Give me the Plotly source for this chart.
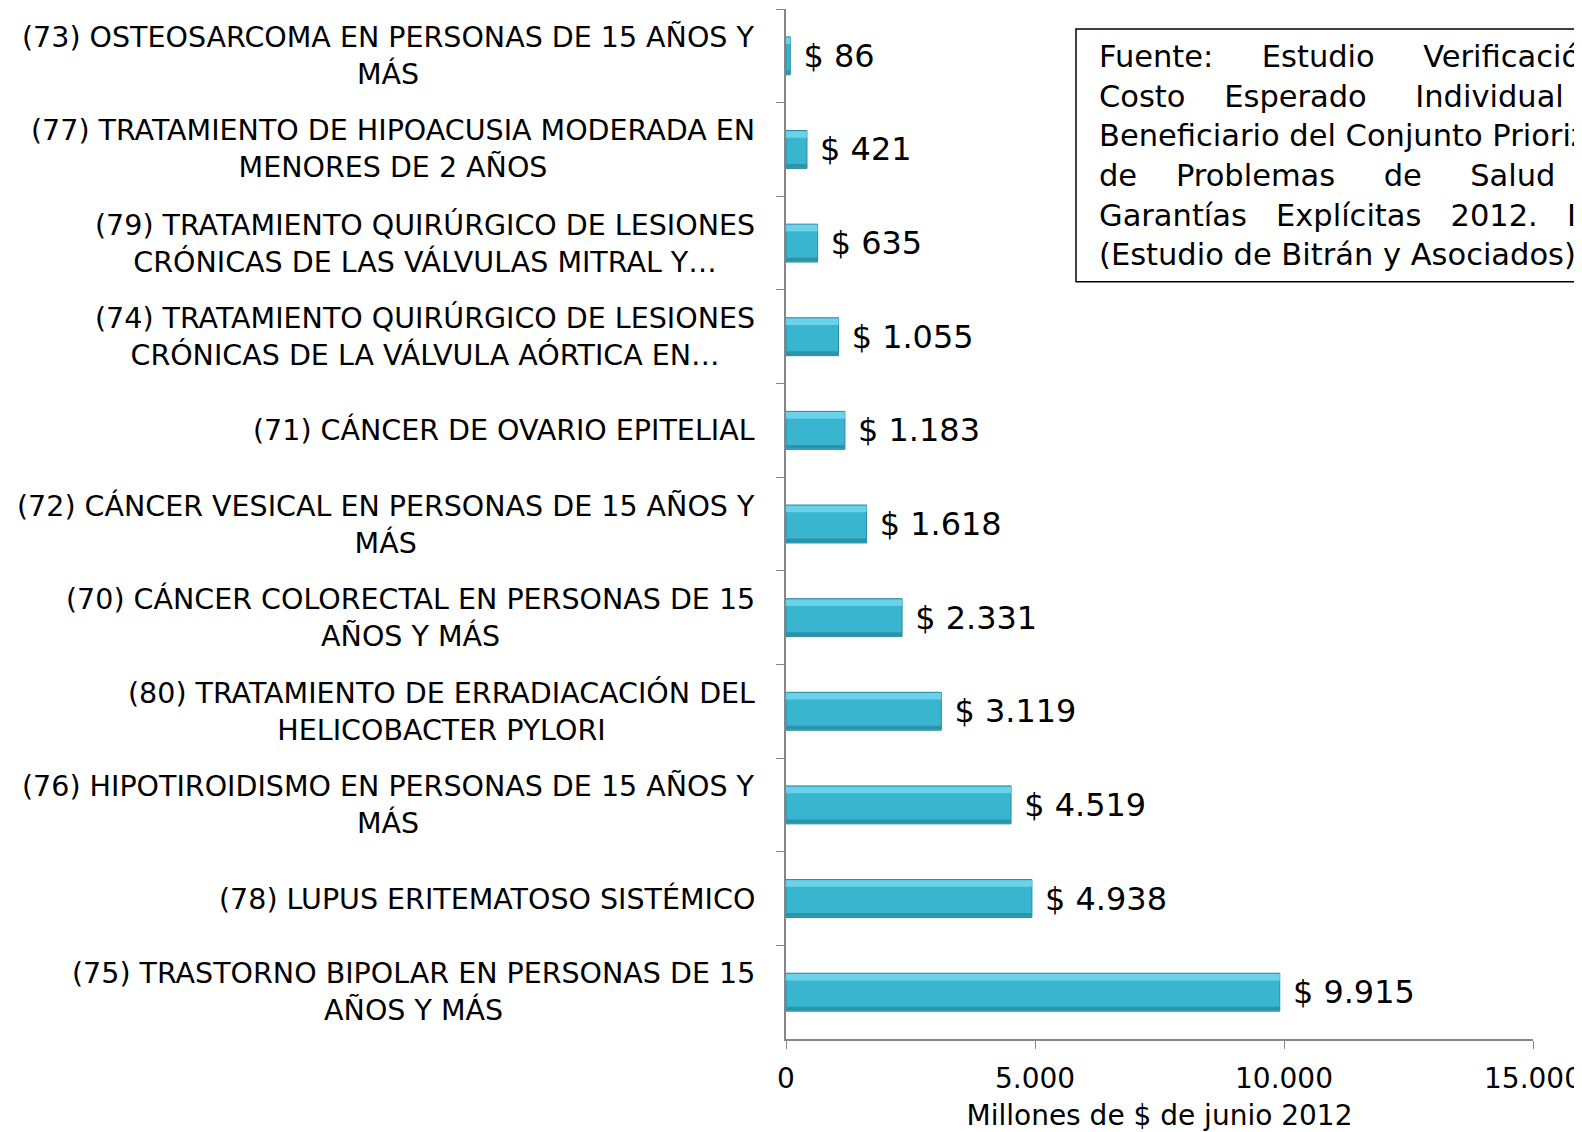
import plotly.graph_objects as go

# -------------------------------------------------
# datos (de arriba hacia abajo)
# -------------------------------------------------
categorias = [
    "(73) OSTEOSARCOMA EN PERSONAS DE 15 AÑOS Y<br>MÁS",
    "(77) TRATAMIENTO DE HIPOACUSIA MODERADA EN<br>MENORES DE 2 AÑOS",
    "(79) TRATAMIENTO QUIRÚRGICO DE LESIONES<br>CRÓNICAS DE LAS VÁLVULAS MITRAL Y…",
    "(74) TRATAMIENTO QUIRÚRGICO DE LESIONES<br>CRÓNICAS DE LA VÁLVULA AÓRTICA EN…",
    "(71) CÁNCER DE OVARIO EPITELIAL",
    "(72) CÁNCER VESICAL EN PERSONAS DE 15 AÑOS Y<br>MÁS",
    "(70) CÁNCER COLORECTAL EN PERSONAS DE 15<br>AÑOS Y MÁS",
    "(80) TRATAMIENTO DE ERRADIACACIÓN DEL<br>HELICOBACTER PYLORI",
    "(76) HIPOTIROIDISMO EN PERSONAS DE 15 AÑOS Y<br>MÁS",
    "(78) LUPUS ERITEMATOSO SISTÉMICO",
    "(75) TRASTORNO BIPOLAR EN PERSONAS DE 15<br>AÑOS Y MÁS",
]
costos = [86, 421, 635, 1055, 1183, 1618, 2331, 3119, 4519, 4938, 9915]

x_ticks = [0, 5000, 10000, 15000]
x_ticktext = ["0", "5.000", "10.000", "15.000"]

NB = "\u00a0"
fuente_lineas = [
    "Fuente:" + NB * 5 + "Estudio" + NB * 5 + "Verificación" + NB * 5 + "del",
    "Costo" + NB * 4 + "Esperado" + NB * 5 + "Individual" + NB * 5 + "por",
    "Beneficiario del Conjunto Priorizado",
    "de" + NB * 4 + "Problemas" + NB * 5 + "de" + NB * 5 + "Salud" + NB * 5 + "con",
    "Garantías" + NB * 3 + "Explícitas" + NB * 3 + "2012." + NB * 3 + "Informe" + NB * 3 + "Final",
    "(Estudio de Bitrán y Asociados)",
]

FONT = "DejaVu Sans, Verdana, sans-serif"

etiquetas = [NB + "$ " + f"{v:,}".replace(",", ".") for v in costos]

fig = go.Figure()

# barra principal
fig.add_trace(go.Bar(
    x=costos, y=categorias,
    orientation="h",
    width=0.405,
    marker=dict(color="#3AB5D0", line=dict(color="#2A8AA1", width=1)),
    text=etiquetas,
    textposition="outside",
    textfont=dict(family=FONT, size=32, color="black"),
    cliponaxis=False,
    showlegend=False,
))
# brillo superior (efecto bisel)
fig.add_trace(go.Bar(
    x=costos, y=categorias,
    orientation="h",
    width=0.07, offset=-0.195,
    marker=dict(color="#6AD3EA", line=dict(width=0)),
    hoverinfo="skip", showlegend=False,
))
# sombra inferior
fig.add_trace(go.Bar(
    x=costos, y=categorias,
    orientation="h",
    width=0.04, offset=0.155,
    marker=dict(color="#2C93AB", line=dict(width=0)),
    hoverinfo="skip", showlegend=False,
))

# etiquetas de categoria centradas (como en el original)
for cat in categorias:
    fig.add_annotation(
        x=-0.039, xref="paper", y=cat, yref="y",
        text=cat, showarrow=False,
        xanchor="right", yanchor="middle", align="center",
        font=dict(family=FONT, size=28.5, color="black"),
    )

# recuadro de fuente
fig.add_shape(
    type="rect", xref="paper", yref="paper",
    x0=0.3882, x1=1.3, y0=0.7352, y1=0.9806,
    line=dict(color="black", width=1.5), fillcolor="white",
    layer="above",
)
fig.add_annotation(
    x=0.4163, xref="paper", y=0.8575, yref="paper",
    text="<br>".join(fuente_lineas), showarrow=False,
    xanchor="left", yanchor="middle", align="left",
    font=dict(family=FONT, size=30.5, color="black"),
)

# el body de la pagina tiene 8px de margen: la figura se reduce en 8px
fig.update_layout(
    width=1574, height=1124,
    margin=dict(l=778, r=49, t=1, b=93, autoexpand=False),
    plot_bgcolor="white", paper_bgcolor="white",
    barmode="overlay",
    font=dict(family=FONT, color="black"),
    xaxis=dict(
        range=[0, 15000], automargin=False,
        tickvals=x_ticks, ticktext=x_ticktext,
        ticks="outside", ticklen=8, tickcolor="#868686",
        ticklabelstandoff=6,
        showline=True, linecolor="#868686", linewidth=1.5,
        showgrid=False, zeroline=False,
        tickfont=dict(family=FONT, size=28, color="black"),
        title=dict(text="Millones de $ de junio 2012",
                   font=dict(family=FONT, size=28, color="black"), standoff=12),
    ),
    yaxis=dict(
        autorange="reversed", automargin=False,
        showticklabels=False,
        tickson="boundaries",
        ticks="outside", ticklen=8, tickcolor="#868686",
        showline=True, linecolor="#868686", linewidth=1.5,
        showgrid=False, zeroline=False,
    ),
)

fig.write_html("out.html")
